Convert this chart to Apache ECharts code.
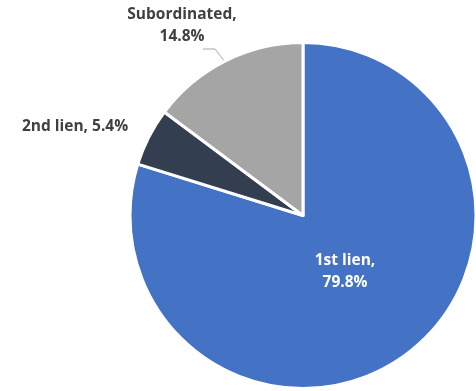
<!DOCTYPE html>
<html>
<head>
<meta charset="utf-8">
<script src="https://cdn.jsdelivr.net/npm/echarts@6/dist/echarts.min.js"></script>
<style>
html,body{margin:0;padding:0;background:#fff;}
#chart{width:476px;height:391px;}
</style>
</head>
<body>
<div id="chart"></div>
<script>
const categories = ['1st lien', '2nd lien', 'Subordinated'];
const values = [79.8, 5.4, 14.8];
const colors = ['#4472C4', '#333F50', '#A5A5A5'];

const chart = echarts.init(document.getElementById('chart'), null, {renderer: 'canvas'});

const labelSpots = [
  {x: 345, y: 272, line: null},
  {x: 75, y: 127, line: null},
  {x: 182, y: 26, line: [[203, 49], [215, 49], [225, 62]]}
];

chart.setOption({
  animation: false,
  series: [{
    type: 'pie',
    center: [303, 215.5],
    radius: [0, 173],
    startAngle: 90,
    clockwise: true,
    avoidLabelOverlap: false,
    itemStyle: {borderColor: '#fff', borderWidth: 3},
    label: {
      show: true,
      fontFamily: 'Open Sans',
      fontWeight: 'bold',
      fontSize: 15.5,
      color: '#404040',
      lineHeight: 22,
      align: 'center',
      formatter: function (p) {
        if (p.dataIndex === 1) return p.name + ', ' + p.value.toFixed(1) + '%';
        return p.name + ',\n' + p.value.toFixed(1) + '%';
      }
    },
    labelLine: {show: true, length: 5, length2: 5, lineStyle: {color: '#A6A6A6', width: 1}},
    labelLayout: function (params) {
      const s = labelSpots[params.dataIndex];
      const out = {x: s.x, y: s.y, align: 'center', verticalAlign: 'middle'};
      out.labelLinePoints = s.line ? s.line : [[s.x, s.y], [s.x, s.y], [s.x, s.y]];
      return out;
    },
    data: categories.map((c, i) => ({
      name: c,
      value: values[i],
      itemStyle: {color: colors[i]},
      label: i === 0 ? {color: '#ffffff'} : {},
      labelLine: {show: i === 2}
    }))
  }]
});
</script>
</body>
</html>
